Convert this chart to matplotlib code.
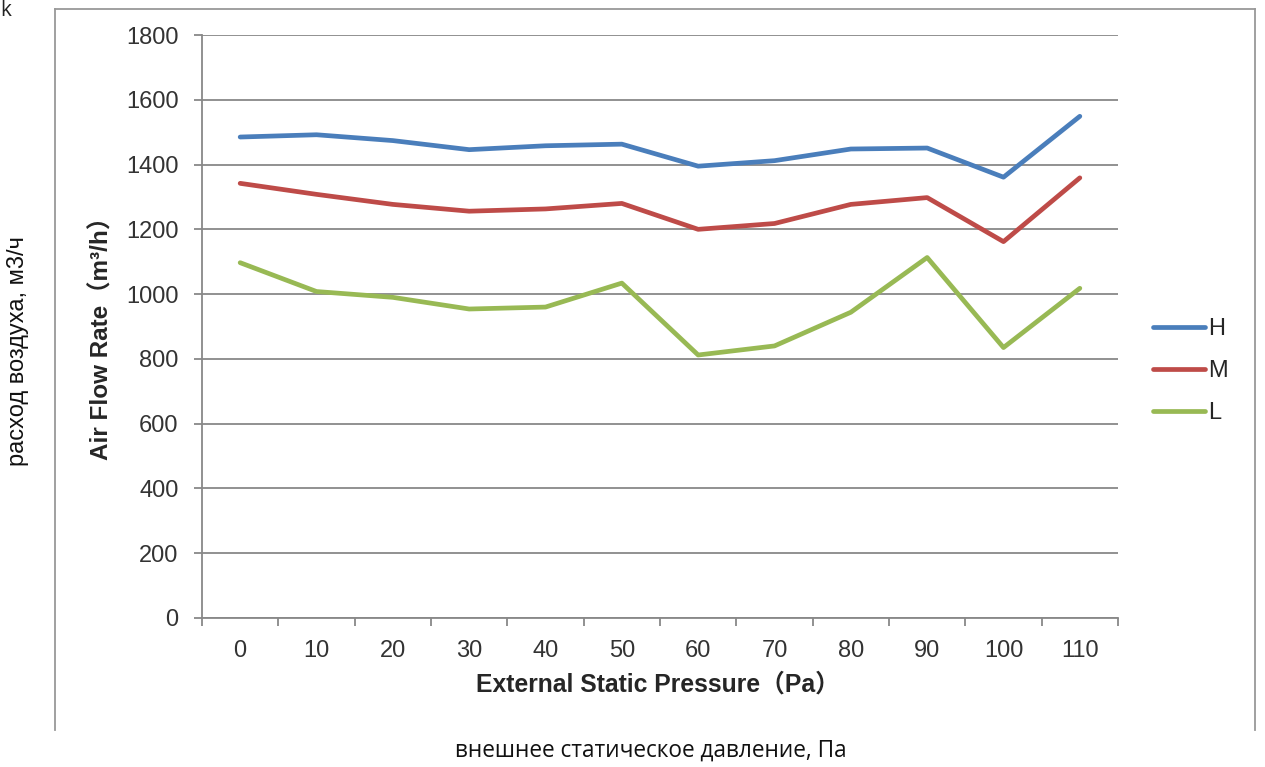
import matplotlib
matplotlib.use("Agg")
import matplotlib.pyplot as plt
from matplotlib.lines import Line2D

pressure = [0, 10, 20, 30, 40, 50, 60, 70, 80, 90, 100, 110]
flow_H = [1485, 1492, 1474, 1446, 1458, 1463, 1395, 1412, 1448, 1451, 1361, 1549]
flow_M = [1342, 1308, 1277, 1256, 1263, 1280, 1200, 1218, 1277, 1298, 1162, 1359]
flow_L = [1097, 1008, 990, 954, 960, 1034, 812, 840, 944, 1113, 835, 1018]
series_names = ["H", "M", "L"]
series_colors = ["#4A7EBB", "#BE4B48", "#98B954"]
y_ticks = [0, 200, 400, 600, 800, 1000, 1200, 1400, 1600, 1800]

W, H = 1265, 767
fig = plt.figure(figsize=(W / 100, H / 100), dpi=100)

def fx(px):
    return px / W

def fy(py):
    return 1 - py / H

ax = fig.add_axes([fx(202), fy(618), fx(1118) - fx(202), fy(35) - fy(618)])

grid_c = "#888888"
idx = list(range(len(pressure)))
for vals, name, col in zip([flow_H, flow_M, flow_L], series_names, series_colors):
    ax.plot(idx, vals, color=col, lw=3.4, label=name, solid_capstyle="round",
            solid_joinstyle="round", zorder=3)

ax.set_xlim(-0.5, len(pressure) - 0.5)
ax.set_ylim(0, 1800)
ax.set_yticks(y_ticks)
ax.set_xticks(idx)
ax.set_xticklabels([str(p) for p in pressure])
ax.set_xticks([i - 0.5 for i in range(len(pressure) + 1)], minor=True)
ax.tick_params(axis="x", which="major", length=0, pad=16)
ax.tick_params(axis="x", which="minor", length=6, width=1.3, color=grid_c, direction="out")
ax.tick_params(axis="y", length=6, width=1.3, color=grid_c, direction="out", pad=11)
for lab in ax.get_xticklabels() + ax.get_yticklabels():
    lab.set_fontfamily(["Liberation Sans"])
    lab.set_fontsize(17)
    lab.set_color("#333333")

ax.grid(axis="y", color=grid_c, lw=1.3)
ax.set_axisbelow(True)
for s in ["top", "right"]:
    ax.spines[s].set_visible(False)
for s in ["left", "bottom"]:
    ax.spines[s].set_color(grid_c)
    ax.spines[s].set_linewidth(1.3)

title_fam = ["Liberation Sans", "Noto Sans CJK SC"]
fig.text(fx(102), fy(332), "Air Flow Rate（m³/h）", rotation=90, ha="center", va="center",
         fontsize=17.5, fontweight="bold", family=title_fam, color="#262626")
fig.text(fx(658), fy(685), "External Static Pressure（Pa）", ha="center", va="center",
         fontsize=17.8, fontweight="bold", family=title_fam, color="#262626")

leg = ax.legend(loc="center left", bbox_to_anchor=(fx(1153), fy(371)),
                bbox_transform=fig.transFigure, frameon=False, borderpad=0,
                borderaxespad=0, handlelength=2.2, handletextpad=0.12,
                labelspacing=0.85, prop=dict(family="Liberation Sans", size=17))
for t in leg.get_texts():
    t.set_color("#262626")

# outer frame of embedded image
frame_c = "#999999"
fig.add_artist(Line2D([fx(55), fx(55)], [fy(730), fy(9)], color=frame_c, lw=1.3))
fig.add_artist(Line2D([fx(55), fx(1255)], [fy(9), fy(9)], color=frame_c, lw=1.3))
fig.add_artist(Line2D([fx(1255), fx(1255)], [fy(9), fy(730)], color=frame_c, lw=1.3))

fig.text(fx(0), fy(10), "k", ha="left", va="center", fontsize=15, family="Open Sans", color="#222222")
fig.text(fx(18), fy(351), "расход воздуха, м3/ч", rotation=90, ha="center", va="center",
         fontsize=17, family="Liberation Sans", color="#111111")
fig.text(fx(651), fy(751), "внешнее статическое давление, Па", ha="center", va="center",
         fontsize=16.3, family="Open Sans", color="#111111")

fig.savefig("out.png", dpi=100)
